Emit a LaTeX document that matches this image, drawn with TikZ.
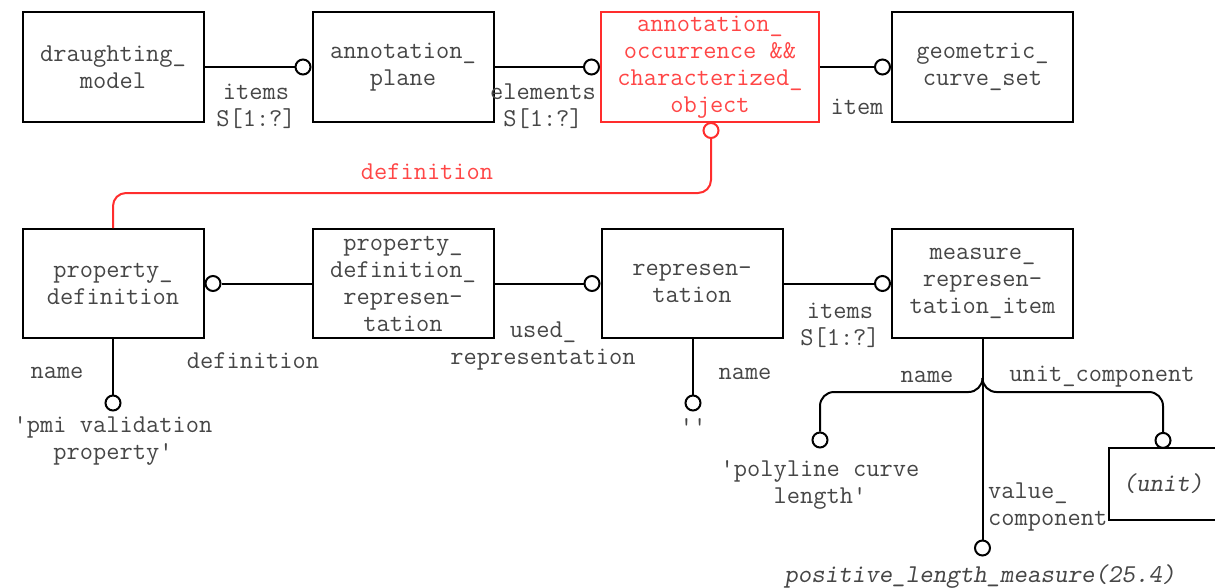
\documentclass[tikz,border=0pt]{standalone}
\usepackage{fontspec}
\newfontfamily\ttobl{lmmonoslant10-regular.otf}
\definecolor{txtgray}{RGB}{70,70,70}
\definecolor{redline}{RGB}{255,45,45}
\definecolor{redtxt}{RGB}{255,70,70}
\newcommand\ttlabel{\fontsize{25.7}{27}\selectfont\ttfamily}
\newcommand\ttoblabel{\fontsize{25.7}{27}\selectfont\ttobl}
\tikzset{
  box/.style={draw=black, line width=2pt, minimum width=181pt, minimum height=110pt, align=center, font=\ttlabel, text=txtgray, inner sep=0pt},
  circ/.style={circle, draw=black, line width=2pt, fill=white, minimum size=15pt, inner sep=0pt},
  lbl/.style={font=\ttlabel, text=txtgray, align=center, inner sep=0pt},
  conn/.style={line width=2pt},
}
\begin{document}
\begin{tikzpicture}[x=1pt,y=-1pt]
\useasboundingbox (0,0) rectangle (1215,587);
% boxes row 1
\node[box] (dm) at (113,67) {draughting\_\\model};
\node[box] (ap) at (403,67) {annotation\_\\plane};
\node[box, draw=redline, text=redtxt, minimum width=218pt] (ao) at (710,67) {annotation\_\\occurrence \&\&\\characterized\_\\object};
\node[box] (gcs) at (982.5,67) {geometric\_\\curve\_set};
% boxes row 2
\node[box, minimum height=109pt] (pd) at (113,283.5) {property\_\\definition};
\node[box, minimum height=109pt] (pdr) at (403,283.5) {property\_\\definition\_\\represen-\\tation};
\node[box, minimum height=109pt] (rep) at (692,283.5) {represen-\\tation};
\node[box, minimum height=109pt] (mri) at (982.5,283.5) {measure\_\\represen-\\tation\_item};
\node[box, minimum height=72pt, anchor=west, text width=170pt, align=left, font=\ttoblabel] (unit) at (1108,484) {\hspace*{8pt}(unit)};
% circles
\node[circ, anchor=east] (c1) at (ap.west) {};
\node[circ, anchor=east] (c2) at (ao.west) {};
\node[circ, anchor=east] (c3) at (gcs.west) {};
\node[circ, draw=redline, anchor=north] (c4) at (711,122) {};
\node[circ, anchor=west] (c5) at (pd.east) {};
\node[circ, anchor=east] (c6) at (rep.west) {};
\node[circ, anchor=east] (c7) at (mri.west) {};
\node[circ] (c8) at (113,403) {};
\node[circ] (c9) at (693,403) {};
\node[circ] (c10) at (982.5,548) {};
\node[circ] (c11) at (820,440) {};
\node[circ, anchor=south] (c12) at (1163,448.9) {};
% connectors
\draw[conn] (dm.east) -- (c1.west);
\draw[conn] (ap.east) -- (c2.west);
\draw[conn] (ao.east) -- (c3.west);
\draw[conn, redline, rounded corners=13pt] (c4.south) -- (711,193) -- (113,193) -- (pd.north);
\draw[conn] (pdr.west) -- (c5.east);
\draw[conn] (pdr.east) -- (c6.west);
\draw[conn] (rep.east) -- (c7.west);
\draw[conn] (pd.south) -- (c8.north);
\draw[conn] (693,338) -- (c9.north);
\draw[conn] (mri.south) -- (c10.north);
\coordinate (j) at (982.5,378);
\draw[conn, rounded corners=14pt] (j) -- (982.5,392) -- (820,392) -- (c11.north);
\draw[conn, rounded corners=14pt] (j) -- (982.5,392) -- (1163,392) -- (c12.north);
% labels
\node[lbl] (l1) at (256,106.5) {items\\S[1:?]};
\node[lbl] (l2) at (543,106.5) {elements\\S[1:?]};
\node[lbl] (l3) at (857,107) {item};
\node[lbl, text=redtxt] (l4) at (427,172) {definition};
\node[lbl] (l5) at (253,361) {definition};
\node[lbl] (l6) at (543,345.5) {used\_\\representation};
\node[lbl] (l7) at (840,325) {items\\S[1:?]};
\node[lbl] (l8) at (57,373) {name};
\node[lbl] (l9) at (113,440.5) {'pmi validation\\property'};
\node[lbl] (l10) at (745,374) {name};
\node[lbl] (l11) at (693,427) {''};
\node[lbl] (l12) at (927,377) {name};
\node[lbl] (l13) at (1102,377) {unit\_component};
\node[lbl] (l14) at (820,485) {'polyline curve\\length'};
\node[lbl, anchor=west, align=left] (l15) at (988,506.5) {value\_\\component};
\node[lbl, font=\ttoblabel] (l16) at (980,577) {positive\_length\_measure(25.4)};
\end{tikzpicture}
\end{document}
